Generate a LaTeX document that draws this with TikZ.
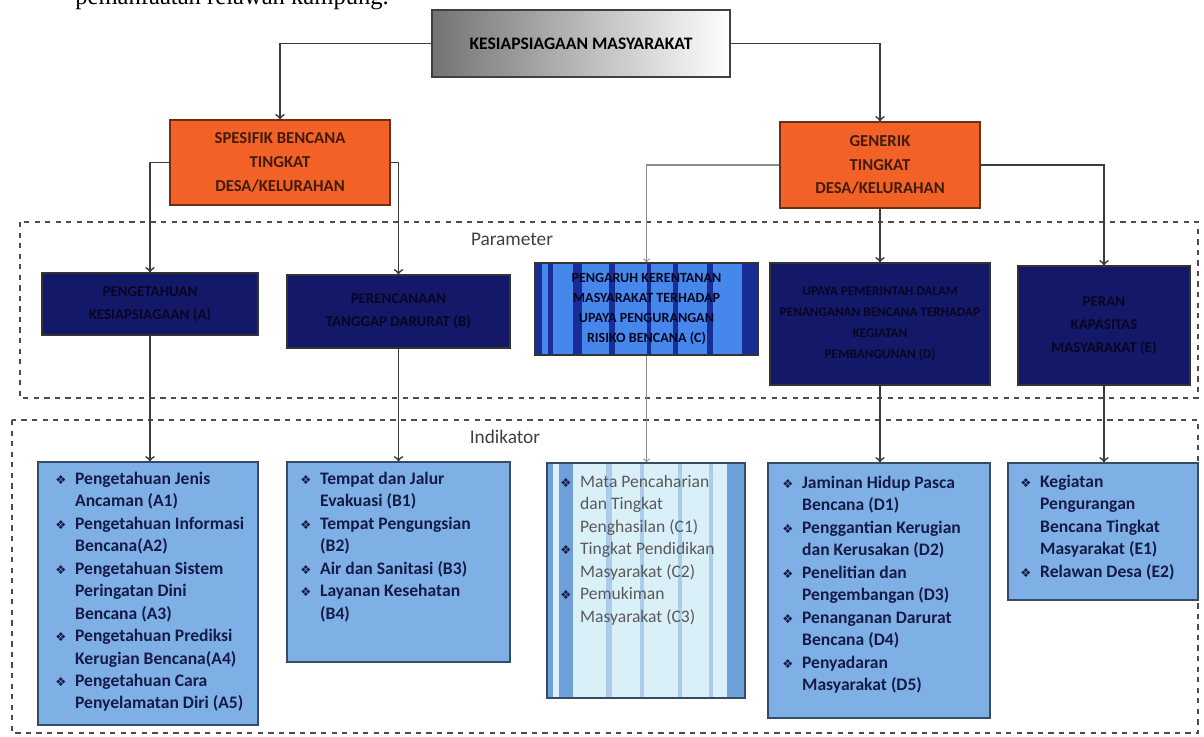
\documentclass[tikz,border=0pt]{standalone}
\usepackage{fontspec}
\setmainfont{Carlito}
\newfontfamily\teksbuku{Liberation Serif}
\newfontfamily\simbol{DejaVu Sans}
\usetikzlibrary{calc}

\definecolor{oranye}{RGB}{242,98,38}
\definecolor{oranyetepi}{RGB}{110,45,20}
\definecolor{navy}{RGB}{20,24,104}
\definecolor{navyteks}{RGB}{6,6,34}
\definecolor{biruind}{RGB}{126,176,230}
\definecolor{tepiind}{RGB}{55,75,105}
\definecolor{teksind}{RGB}{22,26,72}
\definecolor{abu}{RGB}{60,60,60}
\definecolor{birubelang}{RGB}{70,135,235}
\definecolor{birugelap}{RGB}{25,45,150}
\definecolor{pucat}{RGB}{218,240,248}
\definecolor{birusedang}{RGB}{110,160,218}
\definecolor{birumuda}{RGB}{170,205,235}

\newcommand{\btr}{{\simbol\fontsize{7}{7}\selectfont\color{teksind}❖}}

\tikzset{
  kotak/.style={draw=black!75, line width=0.8pt, inner sep=2pt, align=center},
  induk/.style={kotak, left color=black!55, right color=white, font=\fontsize{10}{12}\selectfont\bfseries},
  bencana/.style={kotak, fill=oranye, draw=oranyetepi, text=oranyetepi!60!black, font=\fontsize{9.5}{13.5}\selectfont\bfseries},
  param/.style={kotak, fill=navy, draw=black!80, text=navyteks, font=\fontsize{8.5}{13}\selectfont\bfseries},
  indik/.style={draw=tepiind, line width=0.8pt, fill=biruind},
  isi/.style={anchor=north west, inner sep=0pt, text=teksind, font=\fontsize{10}{12.8}\selectfont\bfseries},
  panah/.style={->, draw=abu, line width=1pt},
  bingkai/.style={draw=black!70, dashed, line width=0.8pt},
  judul/.style={text=black!75, font=\fontsize{11}{13}\selectfont},
  belangC/.style={path picture={
    \foreach \a/\b in {0/0.03,0.06/0.08,0.17/0.21,0.33/0.36,0.5/0.52,0.62/0.64,0.77/0.8,0.93/1}{
      \fill[birugelap] ($(path picture bounding box.south west)!\a!(path picture bounding box.south east)$)
        rectangle ($(path picture bounding box.north west)!\b!(path picture bounding box.north east)$);
    }
  }},
  belangIC/.style={path picture={
    \foreach \a/\b/\w in {0/0.03/birusedang,0.06/0.13/birusedang,0.3/0.33/birumuda,0.47/0.49/birumuda,0.66/0.68/birumuda,0.82/0.84/birumuda,0.91/1/birusedang}{
      \fill[\w] ($(path picture bounding box.south west)!\a!(path picture bounding box.south east)$)
        rectangle ($(path picture bounding box.north west)!\b!(path picture bounding box.north east)$);
    }
  }}
}

\begin{document}
\begin{tikzpicture}[x=0.02cm, y=-0.02cm]
  \useasboundingbox (0,0) rectangle (1204,737);

  % potongan teks halaman di atas
  \node[anchor=base west, inner sep=0pt, font=\teksbuku\fontsize{14}{16}\selectfont] (atas) at (75,5) {pemanfaatan relawan kampung.};

  % bingkai parameter dan indikator
  \draw[bingkai] (20,222) rectangle (1198,398);
  \draw[bingkai] (12,420) rectangle (1198,733);
  \node[judul] (lparam) at (512,239) {Parameter};
  \node[judul] (lindik) at (505,437) {Indikator};

  % tingkat atas
  \node[induk, minimum width=5.96cm, minimum height=1.34cm] (induk) at (581,43.5) {KESIAPSIAGAAN MASYARAKAT};
  \node[bencana, minimum width=4.4cm, minimum height=1.7cm] (spes) at (280,162.5) {SPESIFIK BENCANA\\TINGKAT\\DESA/KELURAHAN};
  \node[bencana, minimum width=4.0cm, minimum height=1.72cm] (gen) at (880,165) {GENERIK\\TINGKAT\\DESA/KELURAHAN};

  % parameter
  \node[param, minimum width=4.32cm, minimum height=1.24cm] (pA) at (150,304) {PENGETAHUAN\\KESIAPSIAGAAN (A)};
  \node[param, minimum width=4.46cm, minimum height=1.46cm] (pB) at (398.5,311.5) {PERENCANAAN\\TANGGAP DARURAT (B)};
  \node[param, fill=birubelang, belangC, minimum width=4.46cm, minimum height=1.84cm, font=\fontsize{8}{11.4}\selectfont\bfseries] (pC) at (646.5,309) {PENGARUH KERENTANAN\\MASYARAKAT TERHADAP\\UPAYA PENGURANGAN\\RISIKO BENCANA (C)};
  \node[param, minimum width=4.4cm, minimum height=2.44cm, font=\fontsize{7.5}{12}\selectfont\bfseries] (pD) at (880,324) {UPAYA PEMERINTAH DALAM\\PENANGANAN BENCANA TERHADAP\\KEGIATAN\\PEMBANGUNAN (D)};
  \node[param, minimum width=3.44cm, minimum height=2.38cm] (pE) at (1104,325.5) {PERAN\\KAPASITAS\\MASYARAKAT (E)};

  % kotak indikator
  \node[indik, minimum width=4.4cm, minimum height=5.26cm] (iA) at (148,593.5) {};
  \node[indik, minimum width=4.46cm, minimum height=4.0cm] (iB) at (398.5,562) {};
  \node[indik, fill=pucat, belangIC, minimum width=3.96cm, minimum height=4.7cm] (iC) at (646,580.5) {};
  \node[indik, minimum width=4.44cm, minimum height=5.1cm] (iD) at (879,590.5) {};
  \node[indik, minimum width=3.8cm, minimum height=2.74cm] (iE) at (1103,531.5) {};

  \node[isi] (tA) at (55,468) {\begin{tabular}{@{}l@{\hspace{5pt}}l@{}}
    \btr & Pengetahuan Jenis\\ & Ancaman (A1)\\
    \btr & Pengetahuan Informasi\\ & Bencana(A2)\\
    \btr & Pengetahuan Sistem\\ & Peringatan Dini\\ & Bencana (A3)\\
    \btr & Pengetahuan Prediksi\\ & Kerugian Bencana(A4)\\
    \btr & Pengetahuan Cara\\ & Penyelamatan Diri (A5)
  \end{tabular}};
  \node[isi] (tB) at (300,468) {\begin{tabular}{@{}l@{\hspace{5pt}}l@{}}
    \btr & Tempat dan Jalur\\ & Evakuasi (B1)\\
    \btr & Tempat Pengungsian\\ & (B2)\\
    \btr & Air dan Sanitasi (B3)\\
    \btr & Layanan Kesehatan\\ & (B4)
  \end{tabular}};
  \node[isi, text=black!65, font=\fontsize{10}{12.8}\selectfont] (tC) at (560,471) {\begin{tabular}{@{}l@{\hspace{5pt}}l@{}}
    \btr & Mata Pencaharian\\ & dan Tingkat\\ & Penghasilan (C1)\\
    \btr & Tingkat Pendidikan\\ & Masyarakat (C2)\\
    \btr & Pemukiman\\ & Masyarakat (C3)
  \end{tabular}};
  \node[isi] (tD) at (782,472) {\begin{tabular}{@{}l@{\hspace{5pt}}l@{}}
    \btr & Jaminan Hidup Pasca\\ & Bencana (D1)\\
    \btr & Penggantian Kerugian\\ & dan Kerusakan (D2)\\
    \btr & Penelitian dan\\ & Pengembangan (D3)\\
    \btr & Penanganan Darurat\\ & Bencana (D4)\\
    \btr & Penyadaran\\ & Masyarakat (D5)
  \end{tabular}};
  \node[isi] (tE) at (1020,471) {\begin{tabular}{@{}l@{\hspace{5pt}}l@{}}
    \btr & Kegiatan\\ & Pengurangan\\ & Bencana Tingkat\\ & Masyarakat (E1)\\
    \btr & Relawan Desa (E2)
  \end{tabular}};

  % penghubung
  \draw[panah] (induk.west) -| (spes.north);
  \draw[panah] (induk.east) -| (gen.north);
  \draw[panah] (spes.west) -| (pA.north);
  \draw[panah] (spes.east) -| (pB.north);
  \draw[panah, draw=black!45, line width=0.6pt] (gen.west) -| (pC.north);
  \draw[panah] (gen.south) -- (pD.north);
  \draw[panah] (gen.east) -| (pE.north);
  \draw[panah] (pA.south) -- (pA.south |- iA.north);
  \draw[panah] (pB.south) -- (pB.south |- iB.north);
  \draw[panah, draw=black!45, line width=0.6pt] (pC.south) -- (pC.south |- iC.north);
  \draw[panah] (pD.south) -- (pD.south |- iD.north);
  \draw[panah] (pE.south) -- (pE.south |- iE.north);
\end{tikzpicture}
\end{document}
